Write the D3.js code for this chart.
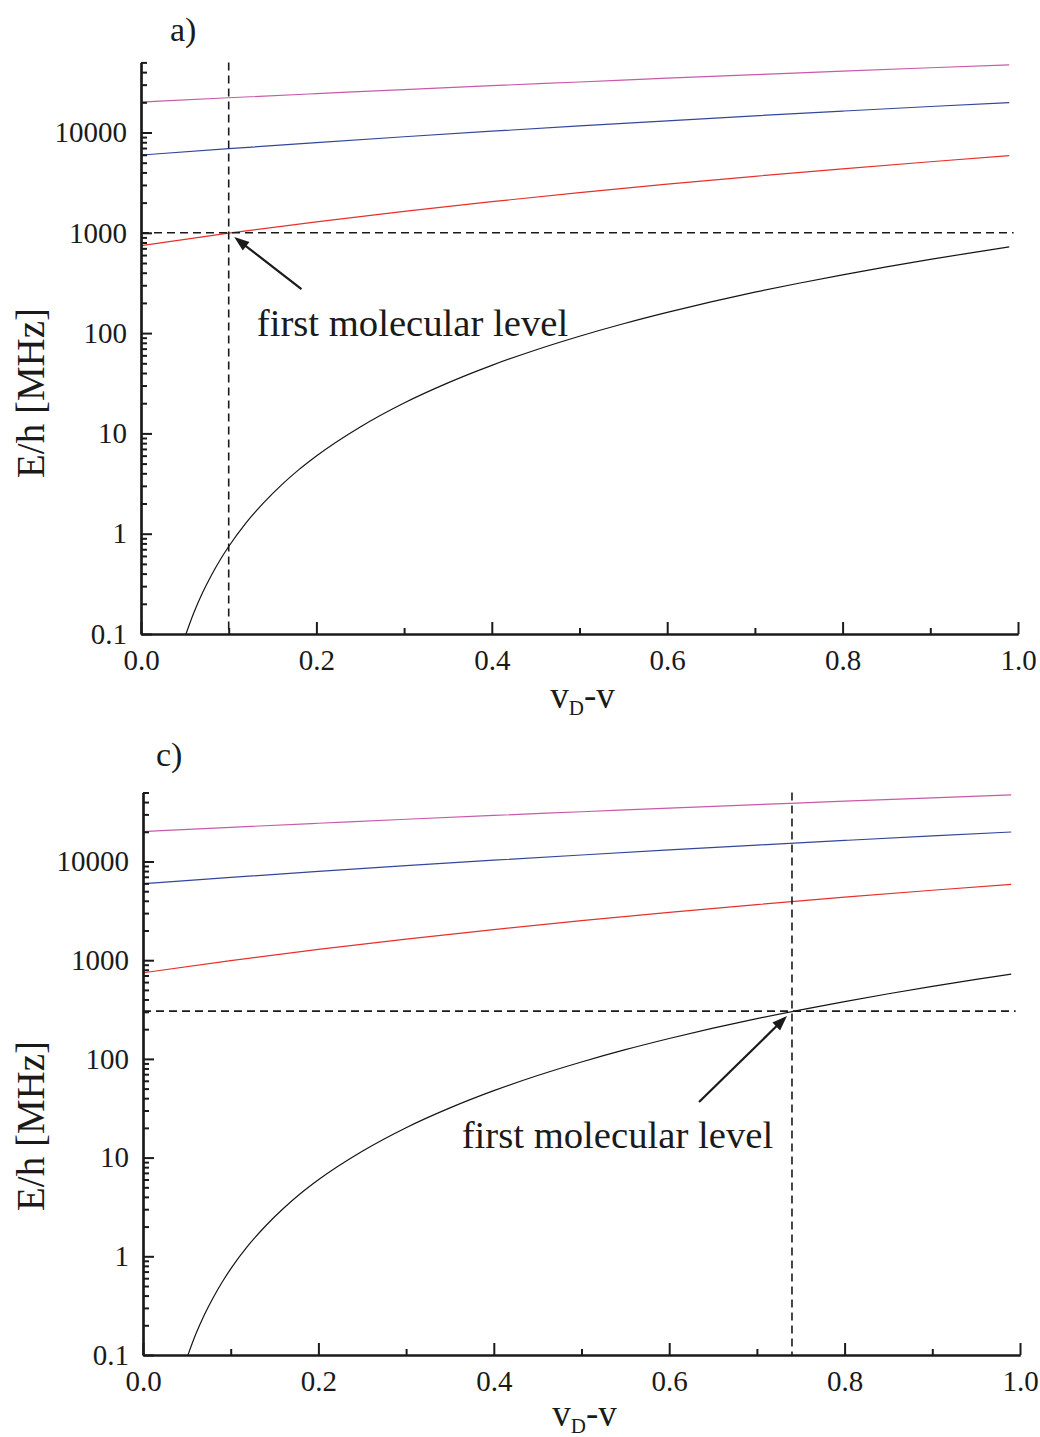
<!DOCTYPE html>
<html>
<head>
<meta charset="utf-8">
<script src="https://cdn.jsdelivr.net/npm/d3@7"></script>
<style>
  html, body { margin: 0; padding: 0; background: #ffffff; }
  svg { display: block; }
  text { font-family: "Liberation Serif", "Times New Roman", serif; fill: #1a1a1a; }
</style>
</head>
<body>
<svg id="chart" width="1040" height="1437"></svg>
<script>
// ---------------- data ----------------
const panelLabels = ["a)", "c)"];
const xTickValues = [0, 0.2, 0.4, 0.6, 0.8, 1.0];
const xTickLabels = ["0.0", "0.2", "0.4", "0.6", "0.8", "1.0"];
const xMinorTicks = [0.1, 0.3, 0.5, 0.7, 0.9];
const yTickValues = [0.1, 1, 10, 100, 1000, 10000];
const yTickLabels = ["0.1", "1", "10", "100", "1000", "10000"];
const yDomain = [0.1, 50000];

// upper levels (nearly straight on the log axis)
const levelV     = [0, 0.1, 0.2, 0.3, 0.4, 0.5, 0.6, 0.7, 0.8, 0.9, 0.99];
const levelPink  = [20100, 22200, 24400, 26800, 29300, 31900, 34800, 37700, 40900, 44200, 47300];
const levelBlue  = [5960, 6900, 7930, 9070, 10300, 11640, 13090, 14660, 16350, 18170, 19900];
const levelRed   = [745, 992, 1287, 1637, 2044, 2514, 3051, 3660, 4345, 5110, 5870];
// first (least bound) level
const blackV = [0.05, 0.06, 0.07, 0.08, 0.09, 0.10, 0.12, 0.14, 0.16, 0.18, 0.20, 0.25, 0.30, 0.35,
                0.40, 0.45, 0.50, 0.55, 0.60, 0.65, 0.70, 0.75, 0.80, 0.85, 0.90, 0.95, 0.99];
const blackE = [0.093, 0.161, 0.256, 0.381, 0.543, 0.745, 1.29, 2.04, 3.05, 4.35, 5.96, 11.6, 20.1, 31.9,
                47.7, 67.9, 93.1, 124, 161, 205, 256, 314, 381, 457, 543, 639, 723];

const seriesNames  = ["pink", "blue", "red", "black"];
const seriesColors = ["#c95aa8", "#34469a", "#e5312c", "#151515"];

// marker (first molecular level) per panel
const markerV = [0.1, 0.74];
const markerE = [1000, 305];
const markerLineEndV = 0.995;
// annotation arrow tails and text anchors per panel (data coordinates)
const arrowTailV = [0.183, 0.634];
const arrowTailE = [275, 36.6];
const noteText = "first molecular level";
const noteV = [0.132, 0.3634];
const noteE = [93.5, 12.4];

// ---------------- layout ----------------
const layouts = [
  { x0: 141, x1: 1018, yB: 634,  yT: 62.4,  labelX: 170, labelY: 41,  yTitleC: 393,  xTitleY: 708 },
  { x0: 143, x1: 1020, yB: 1355, yT: 792.5, labelX: 156, labelY: 766, yTitleC: 1126, xTitleY: 1426 }
];

const svg = d3.select("#chart");

const seriesData = [
  levelV.map((v, i) => [v, levelPink[i]]),
  levelV.map((v, i) => [v, levelBlue[i]]),
  levelV.map((v, i) => [v, levelRed[i]]),
  blackV.map((v, i) => [v, blackE[i]])
];

layouts.forEach((L, p) => {
  const g = svg.append("g");
  const x = d3.scaleLinear().domain([0, 1]).range([L.x0, L.x1]);
  const y = d3.scaleLog().domain(yDomain).range([L.yB, L.yT]);

  const clipId = "clip" + p;
  svg.append("defs").append("clipPath").attr("id", clipId)
    .append("rect").attr("x", L.x0).attr("y", L.yT)
    .attr("width", L.x1 - L.x0).attr("height", L.yB - L.yT);

  // curves
  const line = d3.line().x(d => x(d[0])).y(d => y(d[1])).curve(d3.curveMonotoneX);
  const curves = g.append("g").attr("clip-path", `url(#${clipId})`);
  seriesData.forEach((data, i) => {
    curves.append("path")
      .attr("d", line(data))
      .attr("fill", "none")
      .attr("stroke", seriesColors[i])
      .attr("stroke-width", 1.2);
  });

  // dashed marker lines
  g.append("line")
    .attr("x1", x(0)).attr("x2", x(markerLineEndV))
    .attr("y1", y(markerE[p])).attr("y2", y(markerE[p]))
    .attr("stroke", "#1a1a1a").attr("stroke-width", 1.6).attr("stroke-dasharray", "8,5");
  g.append("line")
    .attr("x1", x(markerV[p])).attr("x2", x(markerV[p]))
    .attr("y1", y(yDomain[1])).attr("y2", y(yDomain[0]))
    .attr("stroke", "#1a1a1a").attr("stroke-width", 1.6).attr("stroke-dasharray", "8,5");

  // axes
  const xMajor = d3.axisBottom(x).tickValues(xTickValues)
    .tickFormat((d, i) => xTickLabels[i]).tickSizeInner(-12).tickSizeOuter(0);
  const xMinor = d3.axisBottom(x).tickValues(xMinorTicks).tickFormat("").tickSizeInner(-6).tickSizeOuter(0);
  const yMajor = d3.axisLeft(y).tickValues(yTickValues)
    .tickFormat((d, i) => yTickLabels[i]).tickSizeInner(-11).tickSizeOuter(0).tickPadding(14);
  const yMinorVals = [];
  [0.1, 1, 10, 100, 1000, 10000].forEach(dec => {
    for (let k = 2; k <= 9; k++) { const v = dec * k; if (v <= yDomain[1] + 1e-9) yMinorVals.push(v); }
  });
  const yMinor = d3.axisLeft(y).tickValues(yMinorVals).tickFormat("").tickSizeInner(-6).tickSizeOuter(0);

  const styleAxis = sel => {
    sel.select(".domain").attr("stroke", "#1a1a1a").attr("stroke-width", 2.2);
    sel.selectAll(".tick line").attr("stroke", "#1a1a1a").attr("stroke-width", 2);
    sel.selectAll(".tick text").attr("fill", "#1a1a1a")
      .style("font-family", '"Liberation Serif", "Times New Roman", serif').style("font-size", "29px");
  };

  const gxMinor = g.append("g").attr("transform", `translate(0,${L.yB})`).call(xMinor); styleAxis(gxMinor);
  const gx = g.append("g").attr("transform", `translate(0,${L.yB})`).call(xMajor); styleAxis(gx);
  gx.selectAll(".tick text").attr("y", 36).attr("dy", 0);
  const gyMinor = g.append("g").attr("transform", `translate(${L.x0},0)`).call(yMinor); styleAxis(gyMinor);
  const gy = g.append("g").attr("transform", `translate(${L.x0},0)`).call(yMajor); styleAxis(gy);

  // arrow annotation
  const tx = x(markerV[p]), ty = y(markerE[p]);
  const sx = x(arrowTailV[p]), sy = y(arrowTailE[p]);
  const dx = sx - tx, dy = sy - ty, len = Math.hypot(dx, dy);
  const ux = dx / len, uy = dy / len;
  const tipX = tx + ux * 7, tipY = ty + uy * 7;
  const headLen = 15, headW = 5.5;
  const bx = tipX + ux * headLen, by = tipY + uy * headLen;
  g.append("line").attr("x1", sx).attr("y1", sy).attr("x2", bx - ux * 2).attr("y2", by - uy * 2)
    .attr("stroke", "#1a1a1a").attr("stroke-width", 2.2);
  g.append("path")
    .attr("d", `M${tipX},${tipY} L${bx - uy * headW},${by + ux * headW} L${bx + uy * headW},${by - ux * headW} Z`)
    .attr("fill", "#1a1a1a");

  g.append("text")
    .attr("x", x(noteV[p])).attr("y", y(noteE[p]))
    .style("font-size", "38.7px")
    .text(noteText);

  // panel label
  g.append("text").attr("x", L.labelX).attr("y", L.labelY)
    .style("font-size", "34px").text(panelLabels[p]);

  // y title
  g.append("text")
    .attr("transform", `translate(44,${L.yTitleC}) rotate(-90)`)
    .attr("text-anchor", "middle")
    .style("font-size", "39px")
    .text("E/h [MHz]");

  // x title v_D - v
  const xt = g.append("text")
    .attr("x", (L.x0 + L.x1) / 2 + 3).attr("y", L.xTitleY)
    .attr("text-anchor", "middle")
    .style("font-size", "37px");
  xt.append("tspan").text("v");
  xt.append("tspan").attr("dy", 7).style("font-size", "21px").text("D");
  xt.append("tspan").attr("dy", -7).text("-v");
});
</script>
</body>
</html>
